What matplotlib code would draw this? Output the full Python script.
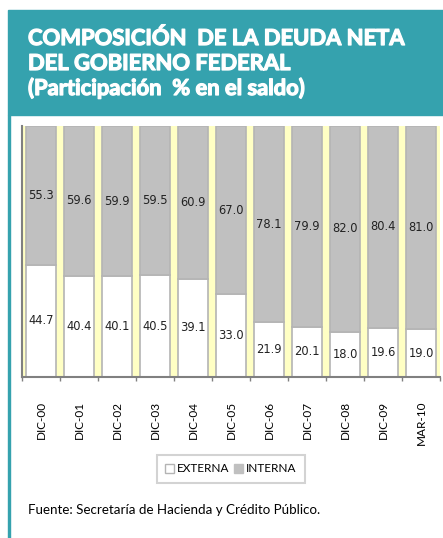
import numpy as np
import matplotlib
matplotlib.use("Agg")
from matplotlib import pyplot as plt
from matplotlib.patches import Rectangle, Patch
import matplotlib.patheffects as pe

periodos = ['DIC-00', 'DIC-01', 'DIC-02', 'DIC-03', 'DIC-04', 'DIC-05',
            'DIC-06', 'DIC-07', 'DIC-08', 'DIC-09', 'MAR-10']
externa = [44.7, 40.4, 40.1, 40.5, 39.1, 33.0, 21.9, 20.1, 18.0, 19.6, 19.0]
interna = [55.3, 59.6, 59.9, 59.5, 60.9, 67.0, 78.1, 79.9, 82.0, 80.4, 81.0]

teal = '#35A2AE'
W, H = 443, 538

fig = plt.figure(figsize=(W / 100, H / 100), dpi=100)
fig.patch.set_facecolor('white')

# encabezado
fig.patches.append(Rectangle((8 / W, 1 - 115 / H), 1 - 8 / W, 105 / H,
                             transform=fig.transFigure, color=teal, zorder=0))
fig.patches.append(Rectangle((8 / W, 0), 2.5 / W, 1 - 115 / H,
                             transform=fig.transFigure, color=teal, zorder=0))
titulo = ['COMPOSICIÓN  DE LA DEUDA NETA', 'DEL GOBIERNO FEDERAL',
          '(Participación  % en el saldo)']
for i, t in enumerate(titulo):
    fig.text(28 / W, 1 - (45 + 25 * i) / H, t, color='white', fontsize=15.8,
             fontweight='bold', family='Lato', va='baseline', ha='left',
             path_effects=[pe.withStroke(linewidth=0.9, foreground='white')])

ax = fig.add_axes([22 / W, (H - 377) / H, 418 / W, 251 / H])
ax.set_facecolor('#FFFFC4')
x = np.arange(len(periodos))
ax.bar(x, externa, width=0.8, color='white', edgecolor='#B4B4B4', linewidth=1.2, zorder=2)
ax.bar(x, interna, width=0.8, bottom=externa, color='#C0C0C0', edgecolor='#B4B4B4',
       linewidth=1.2, zorder=2)

for i in range(len(periodos)):
    ax.text(x[i], externa[i] / 2, '%.1f' % externa[i], ha='center', va='center',
            fontsize=8.3, color='#222222', zorder=3)
    ax.text(x[i], externa[i] + interna[i] / 2, '%.1f' % interna[i], ha='center',
            va='center', fontsize=8.3, color='#222222', zorder=3)

ax.set_xlim(-0.5, len(periodos) - 0.5)
ax.set_ylim(0, 100)
ax.set_yticks([])
ax.set_xticks(x)
ax.set_xticklabels(periodos, rotation=90, family='Lato', fontsize=8.5)
ax.tick_params(axis='x', which='major', length=0, pad=17)
ax.set_xticks(np.arange(-0.5, len(periodos)), minor=True)
ax.tick_params(axis='x', which='minor', length=3, color='#808080', width=1)
for s in ['top', 'right']:
    ax.spines[s].set_visible(False)
for s in ['left', 'bottom']:
    ax.spines[s].set_color('#808080')
    ax.spines[s].set_linewidth(1.5)

handles = [Patch(facecolor='white', edgecolor='#B4B4B4', label='EXTERNA'),
           Patch(facecolor='#C0C0C0', edgecolor='#C0C0C0', label='INTERNA')]
leg = fig.legend(handles=handles, loc='center', bbox_to_anchor=(231 / W, 1 - 469 / H),
                 ncol=2, frameon=True, fancybox=False, prop={'family': 'Lato', 'size': 8.5},
                 handlelength=0.7, handleheight=0.7, handletextpad=0.3, columnspacing=0.4,
                 borderpad=0.7)
leg.get_frame().set_edgecolor('#C8C8C8')
leg.get_frame().set_linewidth(1.5)

fig.text(28 / W, 1 - 510 / H, 'Fuente: Secretaría de Hacienda y Crédito Público.',
         family='Lato', fontsize=9.6, va='center', ha='left', color='black')

fig.savefig('out.png', dpi=100)
